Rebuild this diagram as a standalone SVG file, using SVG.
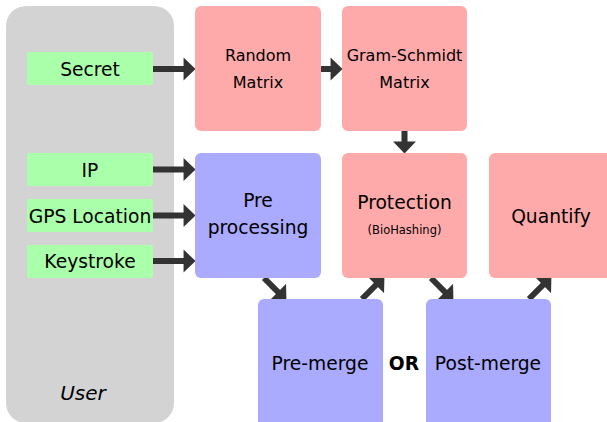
<svg xmlns="http://www.w3.org/2000/svg" width="607" height="422" viewBox="0 0 607 422">
<defs>
<marker id="ah" markerUnits="userSpaceOnUse" markerWidth="14" markerHeight="24" viewBox="0 -11 12 22" refX="5" refY="0" orient="auto">
<path d="M0,-10.5 L11,0 L0,10.5 z" fill="#333333"/>
</marker>
<style>
text{font-family:"DejaVu Sans","Liberation Sans",sans-serif;fill:#000;text-anchor:middle}
.c{stroke:#333333;stroke-width:6;fill:none;marker-end:url(#ah)}
.g{fill:#aaffaa}
.p{fill:#ffaaaa}
.b{fill:#aaaaff}
.m{font-size:18.7px}
.s{font-size:16px}
</style>
</defs>
<g id="user">
<rect x="6" y="6" width="168" height="417" rx="20" fill="#d3d3d3"/>
<text x="83" y="400" style="font-size:20px;font-style:italic">User</text>
</g>
<g id="connectors">
<path class="c" d="M153,69 H189"/>
<path class="c" d="M321,69 H336"/>
<path class="c" d="M404.5,131 V147"/>
<path class="c" d="M153,169.5 H189"/>
<path class="c" d="M153,215.5 H189"/>
<path class="c" d="M153,261 H189"/>
<path class="c" d="M264,278 L281.8,295.8"/>
<path class="c" d="M362,299 L379.8,281.2"/>
<path class="c" d="M431,278 L448.8,295.8"/>
<path class="c" d="M529,299 L546.8,281.2"/>
</g>
<g id="secret"><rect class="g" x="27" y="52" width="126" height="33" rx="2"/><text class="m" x="90" y="76">Secret</text></g>
<g id="ip"><rect class="g" x="27" y="153" width="126" height="33" rx="2"/><text class="m" x="90" y="177">IP</text></g>
<g id="gps"><rect class="g" x="27" y="199" width="126" height="33" rx="2"/><text class="m" x="90" y="223">GPS Location</text></g>
<g id="keystroke"><rect class="g" x="27" y="245" width="126" height="33" rx="2"/><text class="m" x="90" y="268">Keystroke</text></g>
<g id="random"><rect class="p" x="195" y="6" width="126" height="125" rx="6"/><text class="s" x="258" y="61">Random</text><text class="s" x="258" y="88">Matrix</text></g>
<g id="gram"><rect class="p" x="342" y="6" width="125" height="125" rx="6"/><text class="s" x="404.5" y="61">Gram-Schmidt</text><text class="s" x="404.5" y="88">Matrix</text></g>
<g id="preprocessing"><rect class="b" x="195" y="153" width="126" height="125" rx="6"/><text class="m" x="258" y="207">Pre</text><text class="m" x="258" y="234">processing</text></g>
<g id="protection"><rect class="p" x="342" y="153" width="125" height="125" rx="6"/><text class="m" x="404.5" y="209">Protection</text><text x="404.5" y="234" style="font-size:11.5px">(BioHashing)</text></g>
<g id="quantify"><rect class="p" x="489" y="153" width="126" height="125" rx="6"/><text class="m" x="551" y="223">Quantify</text></g>
<g id="premerge"><rect class="b" x="258" y="299" width="125" height="130" rx="6"/><text class="m" x="320" y="370">Pre-merge</text></g>
<g id="postmerge"><rect class="b" x="426" y="299" width="125" height="130" rx="6"/><text class="m" x="488" y="370">Post-merge</text></g>
<text x="404" y="370" style="font-size:18.7px;font-weight:bold">OR</text>
</svg>
